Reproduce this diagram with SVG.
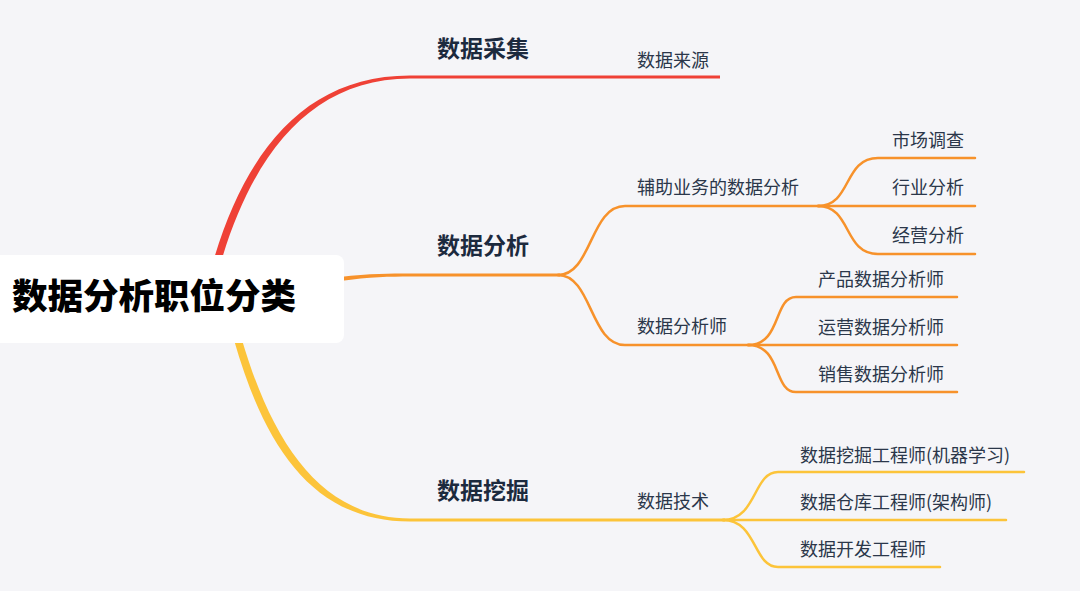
<svg xmlns="http://www.w3.org/2000/svg" width="1080" height="591" viewBox="0 0 1080 591">
<style>
.t{font-family:"Noto Sans CJK SC","Noto Sans",sans-serif;font-size:18px;fill:#2b374a}
.b{font-family:"Noto Sans CJK SC","Noto Sans",sans-serif;font-size:23px;font-weight:bold;fill:#1c2a3e}
.r{font-family:"Noto Sans CJK SC","Noto Sans",sans-serif;font-size:35.5px;font-weight:900;fill:#000}
.lo{fill:none;stroke:#f7922b;stroke-width:2.5;stroke-linecap:round}
.ly{fill:none;stroke:#fcc43a;stroke-width:2.5;stroke-linecap:round}
</style>
<rect width="1080" height="591" fill="#f5f5f8"/>
<g id="connectors">
<path d="M213,262 C246,150 306,75.5 410,75.5 L720,75.5 L720,78.5 L410,78.5 C314,78.5 254,150 221,262 Z" fill="#ef4136"/>
<path d="M234,340 C266,452 316,521.5 410,521.5 L725,521.5 L725,518.5 L410,518.5 C324,518.5 274,448 242,340 Z" fill="#fcc43a"/>
<path d="M340,277 C370,273.5 390,273.5 410,273.5 L560,273.5 L560,276.5 L410,276.5 C390,276.5 370,277 340,281 Z" fill="#f7922b"/>
<path class="lo" d="M558,275 C592,275 590,206 625,206 L820,206"/>
<path class="lo" d="M558,275 C592,275 590,345 625,345 L750,345"/>
<path class="lo" d="M818,206 C852,206 843,158 878,158 L975,158"/>
<path class="lo" d="M818,206 L975,206"/>
<path class="lo" d="M818,206 C852,206 843,254 878,254 L975,254"/>
<path class="lo" d="M748,345 C782,345 773,297 796,297 L957,297"/>
<path class="lo" d="M748,345 L957,345"/>
<path class="lo" d="M748,345 C782,345 773,392 796,392 L957,392"/>
<path class="ly" d="M723,520 C757,520 753,472 778,472 L1024,472"/>
<path class="ly" d="M723,520 L1006,520"/>
<path class="ly" d="M723,520 C757,520 753,567 778,567 L940,567"/>
</g>
<g id="root">
<rect x="-10" y="255" width="354" height="88" rx="8" fill="#fff"/>
<text class="r" x="12" y="309">数据分析职位分类</text>
</g>
<g id="n-caiji"><text class="b" x="437" y="57">数据采集</text></g>
<g id="n-laiyuan"><text class="t" x="637" y="67">数据来源</text></g>
<g id="n-fenxi"><text class="b" x="437" y="254">数据分析</text></g>
<g id="n-fuzhu"><text class="t" x="637" y="194">辅助业务的数据分析</text></g>
<g id="n-shichang"><text class="t" x="892" y="147">市场调查</text></g>
<g id="n-hangye"><text class="t" x="892" y="194">行业分析</text></g>
<g id="n-jingying"><text class="t" x="892" y="242">经营分析</text></g>
<g id="n-fenxishi"><text class="t" x="637" y="333">数据分析师</text></g>
<g id="n-chanpin"><text class="t" x="818" y="286">产品数据分析师</text></g>
<g id="n-yunying"><text class="t" x="818" y="334">运营数据分析师</text></g>
<g id="n-xiaoshou"><text class="t" x="818" y="381">销售数据分析师</text></g>
<g id="n-wajue"><text class="b" x="437" y="499">数据挖掘</text></g>
<g id="n-jishu"><text class="t" x="637" y="508">数据技术</text></g>
<g id="n-wajuegcs"><text class="t" x="800" y="462">数据挖掘工程师(机器学习)</text></g>
<g id="n-cangku"><text class="t" x="800" y="509">数据仓库工程师(架构师)</text></g>
<g id="n-kaifa"><text class="t" x="800" y="556">数据开发工程师</text></g>
</svg>
